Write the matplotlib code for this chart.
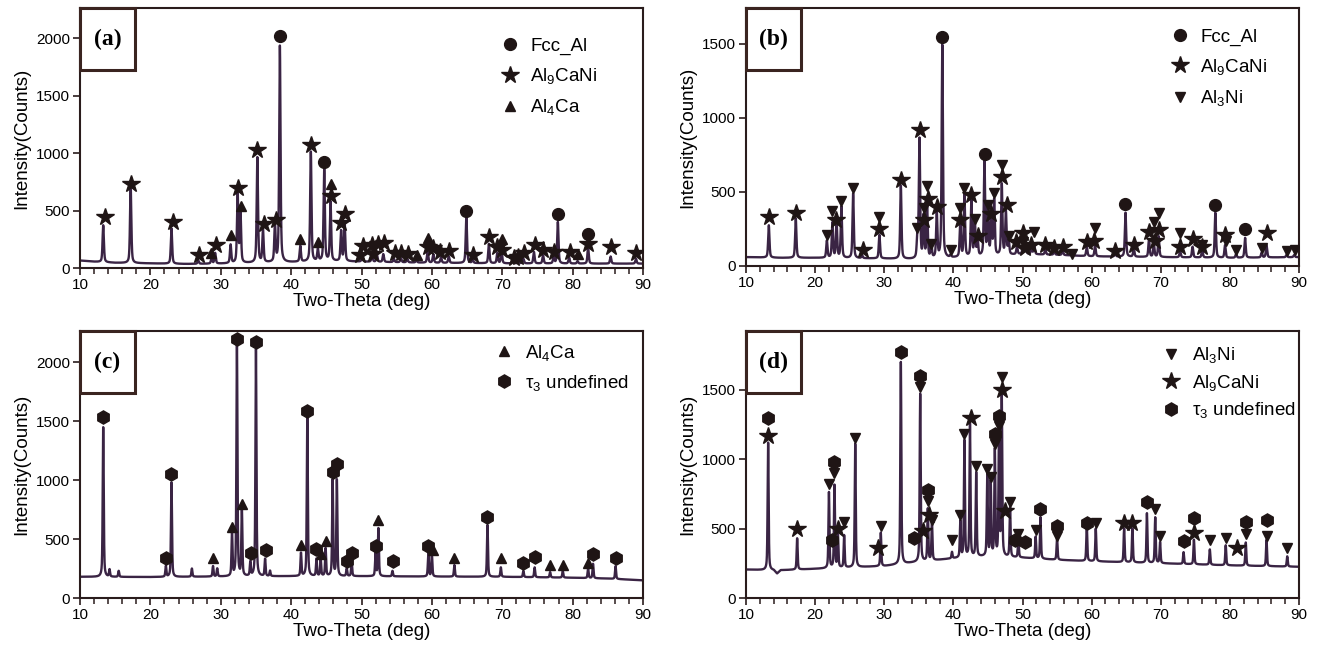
import numpy as np
import matplotlib
matplotlib.use("Agg")
import matplotlib.pyplot as plt
from matplotlib.lines import Line2D
from matplotlib.patches import Rectangle
from matplotlib.ticker import MultipleLocator

plt.rcParams['font.family'] = ['Liberation Sans', 'DejaVu Sans']
plt.rcParams['mathtext.fontset'] = 'custom'
plt.rcParams['mathtext.rm'] = 'Liberation Sans'
plt.rcParams['mathtext.it'] = 'Liberation Sans:italic'

# ---------------- data: panel (a) ----------------
a_base_x = [10, 12, 15, 20, 25, 30, 35, 40, 45, 50, 55, 60, 70, 80, 90]
a_base_y = [65, 55, 45, 40, 35, 38, 45, 50, 60, 55, 50, 45, 40, 38, 38]
a_peak_pos = [13.3, 17.2, 23.0, 26.8, 28.7, 29.2, 31.4, 32.4, 32.8, 35.2, 36.0, 37.7, 38.4,
              41.3, 42.8, 43.8, 44.7, 45.6, 47.1, 47.6, 50.1, 51.5, 52.2, 53.1, 54.6, 55.6,
              56.5, 57.8, 59.4, 60.2, 61.3, 62.4, 64.9, 65.8, 68.1, 69.3, 69.9, 71.5, 72.3,
              73.0, 74.5, 75.8, 77.3, 77.9, 79.5, 80.7, 82.2, 85.4, 89.0]
a_peak_top = [372, 706, 343, 65, 85, 130, 200, 650, 480, 960, 330, 370, 1930,
              190, 1010, 160, 860, 570, 320, 400, 100, 110, 110, 120, 80, 85,
              80, 70, 150, 120, 95, 100, 450, 70, 210, 130, 150, 60, 70,
              80, 140, 110, 95, 400, 90, 60, 180, 100, 80]
a_fcc_x = [38.4, 44.7, 64.9, 77.9, 82.2]
a_fcc_y = [2020, 920, 500, 470, 300]
a_al9_x = [13.5, 17.3, 23.2, 26.9, 29.3, 32.4, 35.2, 36.1, 37.8, 42.8, 45.7, 47.1, 47.7,
           49.8, 50.2, 51.5, 51.7, 52.3, 53.2, 54.7, 55.6, 56.6, 59.4, 60.2, 61.2, 62.4,
           65.9, 68.1, 69.3, 70.0, 71.6, 72.3, 73.1, 74.6, 75.8, 77.3, 79.6, 82.2, 85.4, 89.0]
a_al9_y = [440, 730, 400, 110, 200, 700, 1030, 380, 420, 1070, 630, 390, 470,
           110, 190, 200, 120, 210, 220, 130, 130, 120, 180, 170, 140, 150,
           110, 270, 180, 160, 90, 100, 130, 200, 160, 140, 140, 210, 180, 130]
a_al4_x = [28.6, 31.4, 32.9, 41.3, 43.8, 45.7, 57.9, 59.4, 69.9, 80.8]
a_al4_y = [130, 290, 540, 250, 230, 730, 110, 260, 250, 120]

# ---------------- data: panel (b) ----------------
b_base_x = [10, 15, 20, 30, 35, 40, 45, 50, 55, 60, 70, 80, 90]
b_base_y = [60, 55, 55, 50, 45, 55, 65, 80, 75, 65, 60, 55, 60]
b_peak_pos = [13.3, 17.2, 21.7, 22.5, 23.1, 23.8, 25.5, 26.8, 29.3, 32.4, 34.8, 35.1, 35.7,
              36.2, 36.8, 37.6, 38.4, 39.6, 41.0, 41.6, 42.6, 43.1, 43.5, 44.5, 45.0, 45.5,
              45.9, 47.0, 47.6, 48.0, 49.2, 50.1, 50.5, 51.3, 51.7, 53.3, 54.6, 55.8, 57.1,
              59.3, 60.5, 63.4, 64.9, 66.1, 68.3, 69.0, 69.7, 72.8, 74.6, 76.0, 77.9, 79.3,
              80.9, 82.2, 84.6, 85.3, 88.2, 89.3]
b_peak_top = [275, 320, 170, 290, 300, 400, 490, 70, 210, 540, 200, 850, 330,
              400, 150, 350, 1490, 70, 300, 480, 440, 300, 180, 700, 400, 340,
              440, 550, 360, 170, 130, 170, 110, 120, 140, 110, 100, 105, 80,
              130, 140, 85, 360, 120, 180, 150, 200, 100, 130, 110, 360, 140,
              80, 190, 90, 140, 75, 75]
b_fcc_x = [38.4, 44.6, 64.9, 77.9, 82.2]
b_fcc_y = [1550, 760, 420, 410, 250]
b_al9_x = [13.3, 17.3, 23.0, 26.9, 29.3, 32.4, 35.1, 35.8, 36.3, 37.6, 41.0, 42.6, 43.5,
           45.5, 47.0, 47.7, 49.1, 50.0, 50.4, 51.3, 53.2, 54.6, 55.8, 59.3, 60.4, 63.4,
           66.1, 68.3, 69.1, 69.8, 72.8, 74.6, 76.0, 79.3, 85.3]
b_al9_y = [330, 360, 310, 110, 250, 580, 920, 310, 450, 400, 310, 480, 200,
           350, 600, 410, 160, 220, 120, 140, 140, 120, 130, 160, 170, 100,
           140, 230, 170, 240, 130, 180, 130, 210, 220]
b_al3_x = [21.7, 22.5, 23.8, 25.5, 29.3, 34.8, 35.7, 36.2, 36.8, 39.6, 41.0, 41.6, 43.1,
           45.0, 45.9, 47.0, 48.0, 50.1, 51.7, 57.1, 60.5, 69.0, 69.8, 72.8, 76.0, 79.4,
           80.9, 84.6, 88.3, 89.4]
b_al3_y = [210, 370, 440, 530, 330, 260, 390, 540, 150, 110, 390, 530, 320,
           410, 490, 680, 200, 160, 230, 80, 260, 300, 360, 220, 140, 170,
           110, 120, 100, 110]

# ---------------- data: panel (c) ----------------
c_base_x = [10, 20, 30, 40, 50, 60, 70, 80, 85, 90]
c_base_y = [180, 178, 182, 185, 185, 182, 180, 172, 165, 150]
c_peak_pos = [13.3, 14.2, 15.5, 22.2, 23.0, 25.9, 28.9, 29.5, 31.6, 32.3, 33.0, 34.2, 35.0,
              36.3, 37.0, 41.4, 42.3, 43.6, 44.2, 44.9, 45.9, 46.5, 47.9, 48.6, 52.0, 52.4,
              54.4, 59.5, 60.0, 63.2, 67.9, 69.8, 73.0, 74.6, 76.8, 78.6, 82.2, 82.9, 86.1]
c_peak_top = [1450, 240, 230, 270, 980, 250, 270, 250, 550, 2160, 750, 300, 2110,
              330, 230, 380, 1530, 330, 330, 420, 1000, 1000, 250, 310, 380, 590,
              230, 380, 370, 280, 620, 260, 230, 260, 220, 230, 250, 290, 270]
c_al4_x = [28.9, 31.6, 33.0, 41.4, 44.3, 45.0, 52.4, 60.1, 63.2, 69.8, 76.8, 78.6, 82.2]
c_al4_y = [340, 600, 800, 450, 370, 480, 660, 410, 340, 340, 280, 280, 300]
c_tau_x = [22.2, 23.0, 13.3, 32.3, 34.3, 35.0, 36.4, 42.3, 43.6, 45.9, 46.5, 47.9, 48.6,
           52.0, 54.5, 59.4, 67.9, 73.0, 74.6, 82.9, 86.1]
c_tau_y = [340, 1050, 1540, 2200, 380, 2170, 410, 1590, 420, 1070, 1140, 310, 380,
           440, 310, 440, 690, 300, 350, 370, 340]

# ---------------- data: panel (d) ----------------
d_base_x = [10, 14, 14.5, 15, 20, 25, 30, 35, 40, 45, 50, 55, 60, 70, 80, 90]
d_base_y = [205, 200, 175, 200, 210, 220, 230, 260, 285, 300, 290, 275, 265, 250, 235, 225]
d_peak_pos = [13.2, 17.4, 22.0, 22.8, 23.3, 24.2, 25.8, 29.5, 32.4, 35.2, 36.3, 36.9, 39.8,
              41.0, 41.6, 42.4, 43.3, 44.9, 45.4, 46.0, 46.6, 47.0, 48.2, 49.4, 51.9, 52.6,
              55.0, 59.3, 60.6, 64.7, 65.9, 68.0, 69.2, 69.9, 73.3, 74.8, 77.1, 79.4, 82.3,
              85.3, 88.3]
d_peak_top = [1120, 430, 760, 810, 450, 450, 1110, 470, 1700, 1470, 640, 550, 330,
              550, 1130, 1250, 900, 880, 830, 1060, 1200, 1440, 650, 430, 440, 580,
              430, 520, 500, 500, 500, 610, 580, 400, 330, 420, 350, 380, 400,
              420, 300]
d_al3_x = [22.0, 22.8, 24.2, 25.8, 29.5, 35.2, 36.3, 36.9, 39.8, 41.0, 41.6, 43.3, 44.9,
           45.4, 46.0, 46.6, 47.0, 48.2, 49.4, 51.9, 55.0, 60.6, 69.2, 69.9, 77.1, 79.4,
           82.3, 85.3, 88.3]
d_al3_y = [820, 900, 550, 1150, 520, 1520, 700, 560, 420, 600, 1180, 950, 930,
           870, 1110, 1240, 1590, 690, 460, 490, 450, 540, 640, 450, 420, 430,
           460, 450, 360]
d_al9_x = [13.2, 17.4, 23.3, 29.1, 35.6, 36.5, 42.5, 47.0, 47.5, 64.7, 65.9, 74.8, 81.1]
d_al9_y = [1170, 500, 500, 360, 480, 600, 1300, 1500, 630, 540, 540, 470, 360]
d_tau_x = [13.2, 22.4, 22.8, 32.4, 34.3, 35.2, 36.4, 46.0, 46.6, 48.9, 50.3, 52.6, 55.0,
           59.3, 68.0, 73.3, 74.8, 82.3, 85.3]
d_tau_y = [1300, 420, 980, 1770, 430, 1600, 780, 1180, 1310, 420, 400, 640, 520,
           540, 690, 410, 580, 550, 560]

# ---------------- styling ----------------
W, H = 1321, 654
LINE_C = '#3a2444'
MK_C = '#1f1515'
SPINE_C = '#2a1c1c'

fig = plt.figure(figsize=(W / 100, H / 100), dpi=100)


def px_axes(l, t, r, b):
    return fig.add_axes([l / W, 1 - b / H, (r - l) / W, (b - t) / H])


def spectrum(base_x, base_y, pos, top, fwhm=0.22, eta=0.5):
    x = np.arange(10, 90.001, 0.01)
    base = np.interp(x, base_x, base_y)
    y = base.copy()
    for p, t in zip(pos, top):
        amp = max(t - np.interp(p, base_x, base_y), 0)
        g = np.exp(-4 * np.log(2) * ((x - p) / fwhm) ** 2)
        lo = 1.0 / (1 + 4 * ((x - p) / fwhm) ** 2)
        y += amp * (eta * lo + (1 - eta) * g)
    return x, y


MARKERS = {
    'fcc': dict(marker='o', ms=8.5),
    'al9': dict(marker='*', ms=13),
    'al4': dict(marker='^', ms=7.5),
    'al3': dict(marker='v', ms=7.5),
    'tau': dict(marker='h', ms=9.5),
}
LABELS = {
    'fcc': 'Fcc_Al',
    'al9': r'Al$_{\mathregular{9}}$CaNi',
    'al4': r'Al$_{\mathregular{4}}$Ca',
    'al3': r'Al$_{\mathregular{3}}$Ni',
    'tau': r'τ$_{\mathregular{3}}$ undefined',
}


def setup(ax, ymax, ystep, letter, box_px):
    ax.set_xlim(10, 90)
    ax.set_ylim(0, ymax)
    ax.xaxis.set_major_locator(MultipleLocator(10))
    ax.xaxis.set_minor_locator(MultipleLocator(2))
    ax.yaxis.set_major_locator(MultipleLocator(ystep))
    ax.tick_params(axis='both', which='major', direction='out', length=5, width=1.2,
                   labelsize=11, color=SPINE_C, pad=2)
    ax.tick_params(axis='x', which='minor', direction='out', length=4, width=1.1, color=SPINE_C)
    for s in ax.spines.values():
        s.set_color(SPINE_C)
        s.set_linewidth(1.5)
    ax.set_xlabel('Two-Theta (deg)', fontsize=13.5, labelpad=1)
    ax.set_ylabel('Intensity(Counts)', fontsize=13.5, labelpad=4)
    bb = ax.get_position()
    wf = box_px[0] / (bb.width * W)
    hf = box_px[1] / (bb.height * H)
    ax.add_patch(Rectangle((0, 1 - hf), wf, hf, transform=ax.transAxes, fill=False,
                           edgecolor='#3a2420', linewidth=2.2, zorder=5, clip_on=False))
    ax.text(wf / 2, 1 - hf / 2, '(' + letter + ')', transform=ax.transAxes, ha='center',
            va='center', fontsize=17, fontweight='bold', family='Liberation Serif', zorder=6)


def add_markers(ax, key, xs, ys):
    ax.plot(xs, ys, linestyle='none', color=MK_C, mec=MK_C, zorder=4, **MARKERS[key])


def add_legend(ax, keys, anchor, spacing=0.55):
    handles = [Line2D([], [], linestyle='none', color=MK_C, mec=MK_C, **MARKERS[k]) for k in keys]
    ax.legend(handles, [LABELS[k] for k in keys], loc='upper left', bbox_to_anchor=anchor,
              frameon=False, fontsize=13.5, handletextpad=0.5, labelspacing=spacing,
              borderaxespad=0, handlelength=1.2)


# panel (a)
ax = px_axes(80, 8, 643, 268)
x, y = spectrum(a_base_x, a_base_y, a_peak_pos, a_peak_top)
ax.plot(x, y, color=LINE_C, lw=1.7)
add_markers(ax, 'fcc', a_fcc_x, a_fcc_y)
add_markers(ax, 'al9', a_al9_x, a_al9_y)
add_markers(ax, 'al4', a_al4_x, a_al4_y)
setup(ax, 2262, 500, 'a', (55, 62))
ax.set_yticks([0, 500, 1000, 1500, 2000])
add_legend(ax, ['fcc', 'al9', 'al4'], (0.73, 0.915), 0.6)

# panel (b)
ax = px_axes(746, 8, 1299, 266)
x, y = spectrum(b_base_x, b_base_y, b_peak_pos, b_peak_top)
ax.plot(x, y, color=LINE_C, lw=1.7)
add_markers(ax, 'fcc', b_fcc_x, b_fcc_y)
add_markers(ax, 'al9', b_al9_x, b_al9_y)
add_markers(ax, 'al3', b_al3_x, b_al3_y)
setup(ax, 1743, 500, 'b', (55, 62))
ax.set_yticks([0, 500, 1000, 1500])
add_legend(ax, ['fcc', 'al9', 'al3'], (0.75, 0.95), 0.6)

# panel (c)
ax = px_axes(80, 331, 643, 598)
x, y = spectrum(c_base_x, c_base_y, c_peak_pos, c_peak_top, fwhm=0.17)
ax.plot(x, y, color=LINE_C, lw=1.7)
add_markers(ax, 'al4', c_al4_x, c_al4_y)
add_markers(ax, 'tau', c_tau_x, c_tau_y)
setup(ax, 2267, 500, 'c', (55, 62))
ax.set_yticks([0, 500, 1000, 1500, 2000])
add_legend(ax, ['al4', 'tau'], (0.72, 0.985), 0.55)

# panel (d)
ax = px_axes(746, 331, 1299, 598)
x, y = spectrum(d_base_x, d_base_y, d_peak_pos, d_peak_top, fwhm=0.17)
ax.plot(x, y, color=LINE_C, lw=1.7)
add_markers(ax, 'al3', d_al3_x, d_al3_y)
add_markers(ax, 'al9', d_al9_x, d_al9_y)
add_markers(ax, 'tau', d_tau_x, d_tau_y)
setup(ax, 1924, 500, 'd', (55, 62))
ax.set_yticks([0, 500, 1000, 1500])
add_legend(ax, ['al3', 'al9', 'tau'], (0.735, 0.975), 0.4)

fig.savefig('out.png', dpi=100)
